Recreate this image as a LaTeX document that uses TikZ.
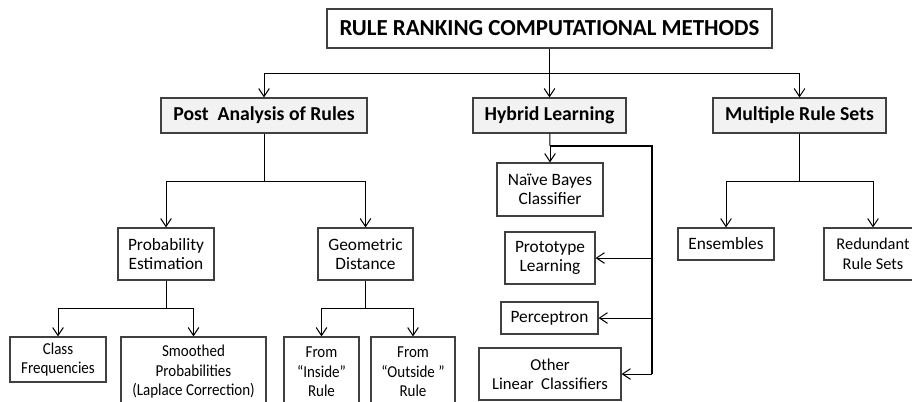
\documentclass[tikz,border=0pt]{standalone}
\usepackage{fontspec}
\setmainfont{Carlito}
\newfontfamily\narrowfont[FakeStretch=0.9]{Carlito}
\usetikzlibrary{arrows.meta}

\tikzset{every picture/.style={line width=0.75pt}}
\tikzset{
  boxline/.style={draw={rgb, 255:red, 64; green, 64; blue, 64}, line width=0.9pt, inner sep=0.75pt, align=center},
  titlebox/.style={boxline, font=\fontsize{17.2}{19}\selectfont\bfseries},
  mainbox/.style={boxline, fill={rgb, 255:red, 242; green, 242; blue, 242}, font=\fontsize{14.8}{17}\selectfont\bfseries},
  subbox/.style={boxline, font=\fontsize{13}{14.5}\selectfont},
  leafbox/.style={boxline, font=\narrowfont\fontsize{12.5}{14.6}\selectfont},
  arr/.style={-{Straight Barb[length=6pt,width=8pt]}},
  busline/.style={line width=1.6pt},
}

\begin{document}
\begin{tikzpicture}[x=0.75pt,y=0.75pt,yscale=-1,xscale=1]
\useasboundingbox (0,0) rectangle (912,401);

% Text Node
\node [titlebox, minimum width=445*0.75pt, minimum height=39*0.75pt] (title) at (549.5,28.5) {RULE RANKING COMPUTATIONAL METHODS};

% Main branches
\node [mainbox, minimum width=206*0.75pt, minimum height=35*0.75pt] (post) at (264,115.5) {Post\ \ Analysis of Rules};
\node [mainbox, minimum width=153*0.75pt, minimum height=35*0.75pt] (hybrid) at (549.5,115.5) {Hybrid Learning};
\node [mainbox, minimum width=173*0.75pt, minimum height=35*0.75pt] (multi) at (799.5,115.5) {Multiple Rule Sets};

% Post analysis
\node [subbox, minimum width=96*0.75pt, minimum height=52*0.75pt] (prob) at (166,254) {Probability\\Estimation};
\node [subbox, minimum width=95*0.75pt, minimum height=52*0.75pt] (geo) at (365.5,254) {Geometric\\Distance};
\node [leafbox, minimum width=96*0.75pt, minimum height=45*0.75pt] (classf) at (58,359.5) {Class\\Frequencies};
\node [leafbox, minimum width=145*0.75pt, minimum height=70*0.75pt] (smooth) at (193.5,372) {Smoothed\\Probabilities\\(Laplace Correction)};
\node [leafbox, minimum width=75*0.75pt, minimum height=70*0.75pt] (inside) at (321.5,372) {From\\“Inside”\\Rule};
\node [leafbox, minimum width=84*0.75pt, minimum height=70*0.75pt] (outside) at (413,372) {From\\“Outside ”\\Rule};

% Hybrid learning
\node [subbox, minimum width=106*0.75pt, minimum height=53*0.75pt] (naive) at (550,189.5) {Naïve Bayes\\Classifier};
\node [subbox, minimum width=90*0.75pt, minimum height=52*0.75pt] (proto) at (550,258) {Prototype\\Learning};
\node [subbox, minimum width=97*0.75pt, minimum height=32*0.75pt] (percep) at (549.5,318) {Perceptron};
\node [subbox, font=\fontsize{12.5}{14.5}\selectfont, minimum width=142*0.75pt, minimum height=52*0.75pt] (other) at (550,374) {Other\\Linear\ \ Classifiers};

% Multiple rule sets
\node [subbox, minimum width=96*0.75pt, minimum height=32*0.75pt] (ensem) at (726,244) {Ensembles};
\node [subbox, font=\fontsize{12.3}{14.5}\selectfont, minimum width=98*0.75pt, minimum height=52*0.75pt] (redund) at (873,254) {Redundant\\Rule Sets};

% Bus points
\coordinate (tbus) at (549.5,73);
\coordinate (pbus) at (264,181);
\coordinate (prbus) at (166,308);
\coordinate (gbus) at (365.5,308);
\coordinate (hbus) at (550,146);
\coordinate (hcorner) at (652,146);
\coordinate (hend) at (652,374);
\coordinate (mbus) at (799.5,181);

% Connectors
\draw (title) -- (tbus);
\draw [arr] (tbus) -| (post);
\draw [arr] (tbus) -- (hybrid);
\draw [arr] (tbus) -| (multi);

\draw (post) -- (pbus);
\draw [arr] (pbus) -| (prob);
\draw [arr] (pbus) -| (geo);

\draw (prob) -- (prbus);
\draw [arr] (prbus) -| (classf);
\draw [arr] (prbus) -| (smooth);

\draw (geo) -- (gbus);
\draw [arr] (gbus) -| (inside);
\draw [arr] (gbus) -| (outside);

\draw (hybrid) -- (hbus);
\draw [busline] (hbus) -- (hcorner) -- (hend);
\draw [arr] (hbus) -- (naive);
\draw [arr] (hcorner |- proto) -- (proto);
\draw [arr] (hcorner |- percep) -- (percep);
\draw [arr] (hend) -- (other);

\draw (multi) -- (mbus);
\draw [arr] (mbus) -| (ensem);
\draw [arr] (mbus) -| (redund);

\end{tikzpicture}
\end{document}
